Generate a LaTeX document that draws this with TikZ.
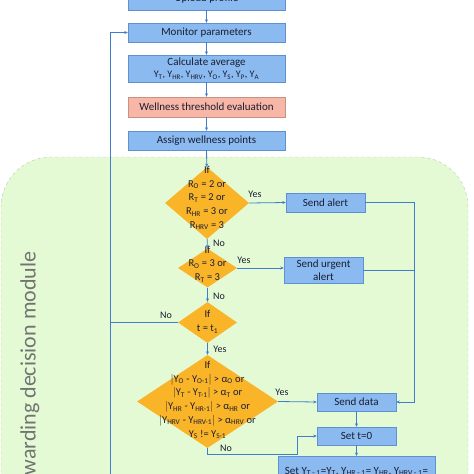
\documentclass[tikz,border=0pt]{standalone}
\usepackage{fontspec}
\setmainfont{Carlito}
\usetikzlibrary{shapes.geometric,arrows.meta}
\definecolor{boxblue}{RGB}{138,186,240}
\definecolor{boxline}{RGB}{95,145,210}
\definecolor{salmon}{RGB}{248,182,166}
\definecolor{decor}{RGB}{250,180,40}
\definecolor{regiongreen}{RGB}{228,250,213}
\definecolor{regionedge}{RGB}{185,205,175}
\definecolor{linecol}{RGB}{65,125,205}
\definecolor{txt}{RGB}{25,30,50}

\begin{document}
\begin{tikzpicture}[x=1pt,y=-1pt,
    box/.style={draw=boxline,fill=boxblue,minimum width=157,inner sep=0,align=center,text=txt,font=\fontsize{11}{13}\selectfont},
    sbox/.style={box,minimum width=79},
    dia/.style={diamond,fill=decor,inner sep=0},
    dtext/.style={align=center,text=txt,inner sep=0,font=\fontsize{10.5}{13.7}\selectfont},
    lab/.style={text=txt,inner sep=0,font=\fontsize{10}{12}\selectfont},
    arr/.style={-{Stealth[length=3.5pt,width=3pt]},line width=0.8pt,draw=linecol},
    ln/.style={line width=0.8pt,draw=linecol}]
    \useasboundingbox (0,0) rectangle (474,474);
    \clip (0,0) rectangle (474,474);
    \fill[regiongreen] (1,157) [rounded corners=50] rectangle (468,520);
    \draw[regionedge,dashed,rounded corners=50] (1,520) -- (1,157) -- (468,157) -- (468,520);
    \node[rotate=90,anchor=east,text=black!55,font=\fontsize{22}{26}\selectfont] (module) at (30,248) {Forwarding decision module};

    \node[box,minimum height=22] (upload) at (206.5,-1) {Upload profile};
    \node[box,minimum height=19] (monitor) at (206.5,32.5) {Monitor parameters};
    \node[box,minimum height=27] (calc) at (206.5,68.5) {Calculate average\\[-1pt]
        \fontsize{10}{11}\selectfont Y\textsubscript{T}, Y\textsubscript{HR}, Y\textsubscript{HRV}, Y\textsubscript{O}, Y\textsubscript{S}, Y\textsubscript{P}, Y\textsubscript{A}};
    \node[box,fill=salmon,draw=salmon!80!black,minimum height=20] (well) at (206.5,107) {Wellness threshold evaluation};
    \node[box,minimum height=19] (assign) at (206.5,140.5) {Assign wellness points};

    \node[dia,minimum width=84,minimum height=72] (d1) at (207,203) {};
    \node[dtext] at (207,198) {If\\R\textsubscript{O} = 2 or\\R\textsubscript{T} = 2 or\\R\textsubscript{HR} = 3 or\\R\textsubscript{HRV} = 3};
    \node[dia,minimum width=59,minimum height=39] (d2) at (207.5,268) {};
    \node[dtext] at (207.5,264) {If\\R\textsubscript{O} = 3 or\\R\textsubscript{T} = 3};
    \node[dia,minimum width=59,minimum height=41] (d3) at (207.5,322.5) {};
    \node[dtext] at (207.5,322) {If\\t = t\textsubscript{1}};
    \node[dia,minimum width=141,minimum height=93] (d4) at (207.5,401.5) {};
    \node[dtext] at (207.5,400) {If\\$|$Y\textsubscript{O} - Y\textsubscript{O-1}$|$ > α\textsubscript{O} or\\
        $|$Y\textsubscript{T} - Y\textsubscript{T-1}$|$ > α\textsubscript{T} or\\
        $|$Y\textsubscript{HR} - Y\textsubscript{HR-1}$|$ > α\textsubscript{HR} or\\
        $|$Y\textsubscript{HRV} - Y\textsubscript{HRV-1}$|$ > α\textsubscript{HRV} or\\
        Y\textsubscript{S} != Y\textsubscript{S-1}};

    \node[sbox,minimum height=19] (alert) at (325.5,202.5) {Send alert};
    \node[sbox,minimum height=26,align=center] (urgent) at (323.5,270) {Send urgent\\alert};
    \node[sbox,minimum height=18] (senddata) at (356.5,402) {Send data};
    \node[sbox,minimum height=18] (sett) at (356.5,436) {Set t=0};
    \node[box,minimum height=40,anchor=north] (sety) at (356.5,456) {\raisebox{11pt}{Set Y\textsubscript{T - 1}=Y\textsubscript{T}, Y\textsubscript{HR - 1}= Y\textsubscript{HR}, Y\textsubscript{HRV - 1}=}};

    \coordinate (rtop) at (414,202.5);
    \coordinate (nobend) at (297,454.5);
    \coordinate (lbot) at (110,480);

    \draw[arr] (upload) -- (monitor);
    \draw[arr] (monitor) -- (calc);
    \draw[arr] (calc) -- (well);
    \draw[arr] (well) -- (assign);
    \draw[arr] (assign) -- (d1);
    \draw[arr] (d1) -- (d2);
    \draw[arr] (d2) -- (d3);
    \draw[arr] (d3) -- (d4);
    \draw[arr] (d1.east) -- (alert.west);
    \draw[arr] (d2.east) -- (d2.east -| urgent.west);
    \draw[arr] (d4.east) -- (senddata.west);
    \draw[arr] (alert.east) -- (rtop) |- (senddata.east);
    \draw[ln] (urgent.east) -- (urgent.east -| rtop);
    \draw[arr] (senddata) -- (sett);
    \draw[arr] (sett) -- (sety);
    \draw[arr] (d4.south) |- (nobend) |- (sett.west);
    \draw[arr] (lbot) |- (monitor.west);
    \draw[ln] (d3.west) -- (d3.west -| lbot);

    \node[lab] at (255,194) {Yes};
    \node[lab] at (219,243) {No};
    \node[lab] at (244,260) {Yes};
    \node[lab] at (219,296) {No};
    \node[lab] at (166,315) {No};
    \node[lab] at (220,349) {Yes};
    \node[lab] at (282,392) {Yes};
    \node[lab] at (226,448) {No};
\end{tikzpicture}
\end{document}
